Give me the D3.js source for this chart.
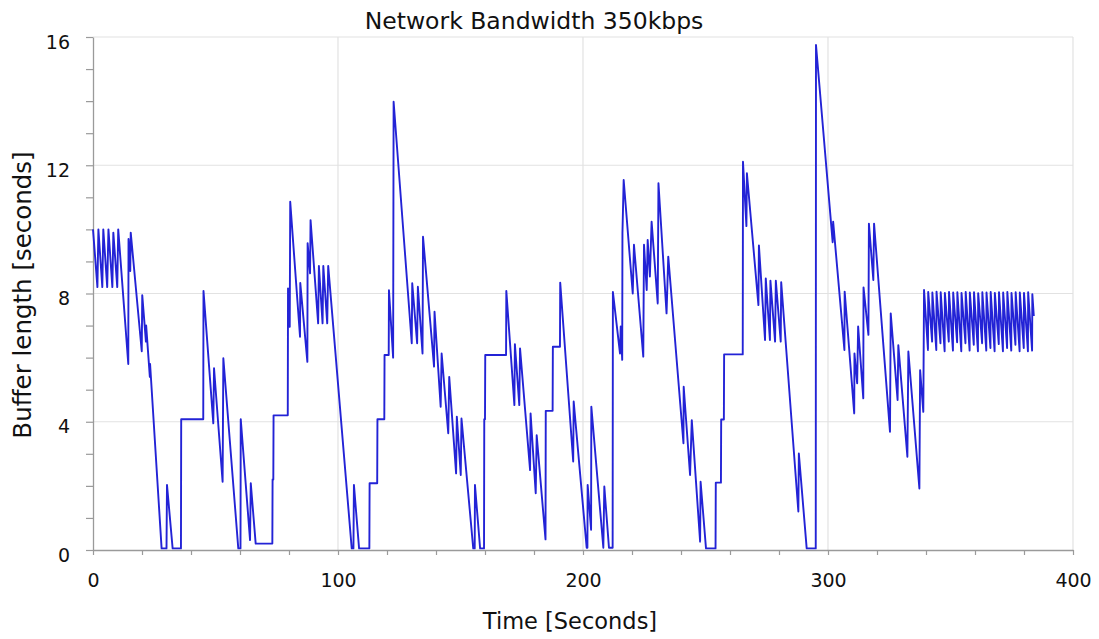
<!DOCTYPE html>
<html>
<head>
<meta charset="utf-8">
<script src="https://cdn.jsdelivr.net/npm/d3@7"></script>
<style>
  html, body { margin: 0; padding: 0; background: #fff; }
  svg { display: block; }
  text { font-family: "DejaVu Sans", sans-serif; fill: #111; }
</style>
</head>
<body>
<svg id="chart" width="1099" height="639"></svg>
<script>
// ---- data ----
const chartTitle = "Network Bandwidth 350kbps";
const xTitle = "Time [Seconds]";
const yTitle = "Buffer length [seconds]";

const xTickValues = [0, 20, 40, 60, 80, 100, 120, 140, 160, 180, 200, 220, 240, 260, 280, 300, 320, 340, 360, 380, 400];
const xTickLabels = [0, 100, 200, 300, 400];
const yTickValues = [0, 1, 2, 3, 4, 5, 6, 7, 8, 9, 10, 11, 12, 13, 14, 15, 16];
const yTickLabels = [0, 4, 8, 12, 16];

const timeSec = [
  0, 1.8, 2.2, 3.8, 4.2, 5.8, 6.3, 7.9, 8.3, 9.9, 10.3,
  14.4, 14.5, 15.2, 15.4, 19.9, 20.1, 21.6, 21.7, 23.2, 23.3,
  28.0, 30.0, 30.2, 32.5, 35.9, 36.0, 45.0, 45.1, 49.1, 49.4,
  52.9, 53.2, 59.3, 60.2, 60.3, 64.1, 64.4, 66.4, 73.2, 73.3,
  73.6, 73.7, 79.5, 79.6, 80.3, 80.5, 84.5, 84.6, 87.5, 87.6,
  88.6, 88.8, 91.9, 92.2, 93.7, 94.0, 95.6, 96.0, 105.6, 106.3,
  106.5, 108.6, 112.8, 112.9, 116.0, 116.1, 118.9, 119.0, 120.7, 120.8,
  122.5, 122.7, 130.1, 130.3, 132.3, 132.6, 134.5, 134.7, 139.2, 139.4,
  141.9, 142.3, 145.0, 145.4, 148.2, 148.5, 150.1, 150.4, 155.2, 155.8,
  155.9, 158.0, 159.6, 159.7, 160.0, 160.1, 168.6, 168.7, 172.0, 172.2,
  174.0, 174.3, 178.4, 178.6, 180.7, 181.1, 184.7, 184.8, 187.6, 187.7,
  190.6, 190.7, 196.0, 196.2, 201.5, 201.8, 201.9, 203.3, 203.4, 208.3,
  208.7, 210.6, 212.1, 212.2, 215.1, 215.4, 216.0, 216.1, 216.6, 220.3,
  220.8, 224.6, 224.9, 226.0, 226.4, 227.3, 228.0, 230.5, 230.8, 234.1,
  234.8, 241.0, 241.1, 243.7, 244.4, 247.8, 248.0, 250.2, 254.1, 254.2,
  256.3, 256.4, 257.5, 257.6, 265.2, 265.3, 266.7, 266.9, 271.6, 271.8,
  274.3, 274.6, 276.3, 276.5, 278.4, 278.7, 280.7, 280.9, 287.9, 288.1,
  291.3, 295.0, 295.1, 301.9, 302.1, 306.7, 306.8, 310.7, 310.8, 311.9,
  312.3, 314.4, 314.5, 316.5, 316.7, 318.5, 318.8, 325.3, 325.6, 328.4,
  328.7, 332.4, 332.8, 337.3, 337.6, 338.9, 339.2,
  340.8, 340.9, 342.5, 342.6, 344.2, 344.3, 345.9, 346.0, 347.6, 347.7,
  349.3, 349.4, 351.0, 351.1, 352.7, 352.8, 354.4, 354.5, 356.1, 356.2,
  357.8, 357.9, 359.5, 359.6, 361.2, 361.3, 362.9, 363.0, 364.6, 364.7,
  366.3, 366.4, 368.0, 368.1, 369.7, 369.8, 371.4, 371.5, 373.1, 373.2,
  374.8, 374.9, 376.5, 376.6, 378.2, 378.3, 379.9, 380.0, 381.6, 381.7,
  383.3, 383.4, 384.0
];

const bufferSec = [
  10.0, 8.2, 10.0, 8.2, 10.0, 8.2, 10.0, 8.2, 9.9, 8.2, 10.0,
  5.8, 9.7, 8.7, 9.9, 6.2, 7.95, 6.5, 7.0, 5.4, 5.8,
  0.05, 0.05, 2.03, 0.05, 0.05, 4.08, 4.08, 8.08, 3.95, 5.67,
  2.13, 5.98, 0.05, 0.05, 4.08, 0.31, 2.08, 0.2, 0.2, 2.2,
  2.2, 4.2, 4.2, 8.16, 6.96, 10.86, 6.65, 8.33, 5.87, 9.57,
  8.63, 10.29, 7.07, 8.86, 7.07, 8.86, 7.07, 8.86, 0.05, 0.05,
  2.03, 0.05, 0.05, 2.08, 2.08, 4.08, 4.08, 6.08, 6.08, 8.1,
  6.0, 13.98, 6.45, 8.32, 6.45, 8.21, 6.13, 9.77, 5.72, 7.43,
  4.47, 6.13, 3.64, 5.4, 2.39, 4.16, 2.34, 4.1, 0.05, 0.05,
  2.03, 0.05, 0.05, 4.08, 4.08, 6.08, 6.08, 8.08, 4.52, 6.42,
  4.52, 6.29, 2.49, 4.26, 1.77, 3.58, 0.33, 4.34, 4.34, 6.34,
  6.34, 8.34, 2.76, 4.63, 0.07, 0.07, 2.03, 0.63, 4.47, 0.07,
  1.98, 0.07, 0.07, 8.05, 6.13, 6.97, 5.93, 9.88, 11.54, 8.0,
  9.52, 6.03, 9.52, 8.11, 9.67, 8.53, 10.24, 7.69, 11.44, 7.38,
  9.15, 3.33, 5.09, 2.34, 4.05, 0.26, 2.13, 0.05, 0.05, 2.1,
  2.1, 4.07, 4.07, 6.1, 6.1, 12.11, 10.1, 11.75, 7.64, 9.5,
  6.55, 8.47, 6.55, 8.4, 6.5, 8.4, 6.5, 8.35, 1.2, 3.01,
  0.05, 0.05, 15.75, 9.6, 10.24, 6.24, 8.06, 4.26, 6.13, 5.2,
  6.97, 4.73, 8.19, 6.71, 10.18, 8.42, 10.18, 3.69, 7.38, 4.68,
  6.39, 2.91, 6.19, 1.92, 5.61, 4.31, 8.11,
  6.24, 8.05, 6.5, 8.03, 6.24, 8.06, 6.45, 8.04, 6.2, 8.02,
  6.5, 8.05, 6.22, 8.03, 6.48, 8.04, 6.2, 8.02, 6.45, 8.05,
  6.22, 8.03, 6.4, 8.04, 6.2, 8.01, 6.45, 8.04, 6.22, 8.03,
  6.3, 8.05, 6.2, 8.02, 6.42, 8.04, 6.2, 8.03, 6.3, 8.05,
  6.22, 8.02, 6.4, 8.04, 6.2, 8.03, 6.3, 8.02, 6.2, 8.04,
  6.22, 7.98, 7.3
];

// ---- drawing ----
const svg = d3.select("#chart");
const plot = { left: 93, right: 1073, top: 37, bottom: 550 };

const x = d3.scaleLinear().domain([0, 400]).range([plot.left, plot.right]);
const y = d3.scaleLinear().domain([0, 16]).range([plot.bottom, plot.top]);

const gridColor = "#e2e2e2";
const axisColor = "#9a9a9a";

// grid lines
svg.append("g").selectAll("line.hg")
  .data(yTickLabels.filter(v => v > 0))
  .join("line")
  .attr("x1", plot.left).attr("x2", plot.right)
  .attr("y1", d => y(d)).attr("y2", d => y(d))
  .attr("stroke", gridColor).attr("stroke-width", 1.2);

svg.append("g").selectAll("line.vg")
  .data(xTickLabels.filter(v => v > 0))
  .join("line")
  .attr("x1", d => x(d)).attr("x2", d => x(d))
  .attr("y1", plot.top).attr("y2", plot.bottom)
  .attr("stroke", gridColor).attr("stroke-width", 1.2);

// x axis
const xAxis = d3.axisBottom(x)
  .tickValues(xTickValues)
  .tickSize(5)
  .tickSizeOuter(0)
  .tickPadding(19)
  .tickFormat(d => xTickLabels.includes(d) ? String(d) : "");
const gx = svg.append("g").attr("transform", `translate(0,${plot.bottom})`).call(xAxis);
gx.select(".domain").attr("stroke", axisColor).attr("stroke-width", 1.3);
gx.selectAll(".tick line").attr("stroke", axisColor).attr("stroke-width", 1.2);
gx.selectAll(".tick text")
  .style("font-family", "'DejaVu Sans', sans-serif")
  .style("font-size", "19px").attr("fill", "#111");

// y axis
const yAxis = d3.axisLeft(y)
  .tickValues(yTickValues)
  .tickSize(7)
  .tickSizeOuter(0)
  .tickPadding(16)
  .tickFormat(d => yTickLabels.includes(d) ? String(d) : "");
const gy = svg.append("g").attr("transform", `translate(${plot.left},0)`).call(yAxis);
gy.select(".domain").attr("stroke", axisColor).attr("stroke-width", 1.3);
gy.selectAll(".tick line").attr("stroke", axisColor).attr("stroke-width", 1.2);
gy.selectAll(".tick text")
  .style("font-family", "'DejaVu Sans', sans-serif")
  .style("font-size", "19px").attr("fill", "#111")
  .attr("y", 5);

// data line
const points = timeSec.map((t, i) => [t, bufferSec[i]]);
const line = d3.line().x(d => x(d[0])).y(d => y(d[1]));
svg.append("path")
  .datum(points)
  .attr("d", line)
  .attr("fill", "none")
  .attr("stroke", "#2323d6")
  .attr("stroke-width", 1.9)
  .attr("stroke-linejoin", "round");

// titles
svg.append("text")
  .attr("x", 534).attr("y", 29)
  .attr("text-anchor", "middle")
  .style("font-size", "23.5px")
  .text(chartTitle);

svg.append("text")
  .attr("x", 570).attr("y", 629)
  .attr("text-anchor", "middle")
  .style("font-size", "22.5px")
  .text(xTitle);

svg.append("text")
  .attr("transform", "translate(31,295) rotate(-90)")
  .attr("text-anchor", "middle")
  .style("font-size", "24.5px")
  .text(yTitle);
</script>
</body>
</html>
